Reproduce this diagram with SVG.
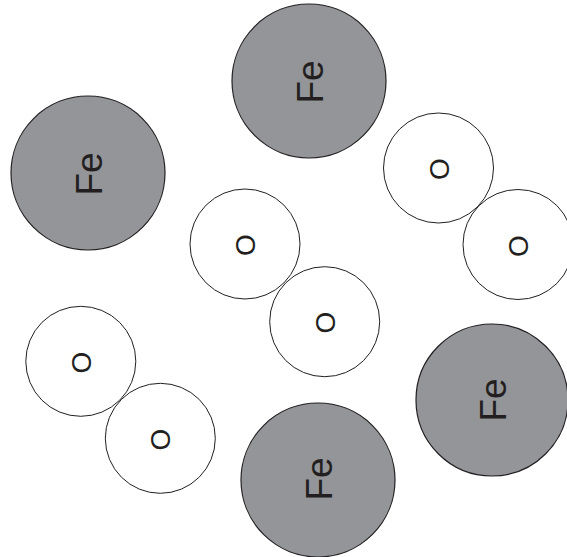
<svg xmlns="http://www.w3.org/2000/svg" width="567" height="557" viewBox="0 0 567 557">
<style>
.fe{fill:#939598;stroke:#231f20;stroke-width:1.2}
.ox{fill:#ffffff;stroke:#231f20;stroke-width:1}
.lbl{font-family:"Liberation Sans",Arial,sans-serif;font-size:37px;fill:#231f20;text-anchor:middle}
.lo{font-size:28px}
</style>
<rect width="567" height="557" fill="#ffffff"/>
<g id="connectors"></g>
<g id="fe-top"><circle class="fe" cx="309" cy="81" r="77"/><text class="lbl" transform="translate(309,82) rotate(-90)" y="13.5">Fe</text></g>
<g id="fe-left"><circle class="fe" cx="88" cy="173" r="77"/><text class="lbl" transform="translate(88,174) rotate(-90)" y="13.5">Fe</text></g>
<g id="fe-right"><circle class="fe" cx="492" cy="400" r="76"/><text class="lbl" transform="translate(492,400) rotate(-90)" y="13.5">Fe</text></g>
<g id="fe-bottom"><circle class="fe" cx="318" cy="480" r="77"/><text class="lbl" transform="translate(318,479) rotate(-90)" y="13.5">Fe</text></g>
<g id="o-tr1"><circle class="ox" cx="438.5" cy="168" r="55"/><text class="lbl lo" transform="translate(439,169) rotate(-90)" y="10">O</text></g>
<g id="o-tr2"><circle class="ox" cx="518" cy="244.5" r="55"/><text class="lbl lo" transform="translate(518,246) rotate(-90)" y="10">O</text></g>
<g id="o-m1"><circle class="ox" cx="245" cy="244" r="55"/><text class="lbl lo" transform="translate(245,245) rotate(-90)" y="10">O</text></g>
<g id="o-m2"><circle class="ox" cx="324.7" cy="321.7" r="55"/><text class="lbl lo" transform="translate(324.5,322.5) rotate(-90)" y="10">O</text></g>
<g id="o-bl1"><circle class="ox" cx="80.8" cy="361.3" r="55"/><text class="lbl lo" transform="translate(81,362.5) rotate(-90)" y="10">O</text></g>
<g id="o-bl2"><circle class="ox" cx="160.3" cy="438.3" r="55"/><text class="lbl lo" transform="translate(160.3,439.5) rotate(-90)" y="10">O</text></g>
</svg>
